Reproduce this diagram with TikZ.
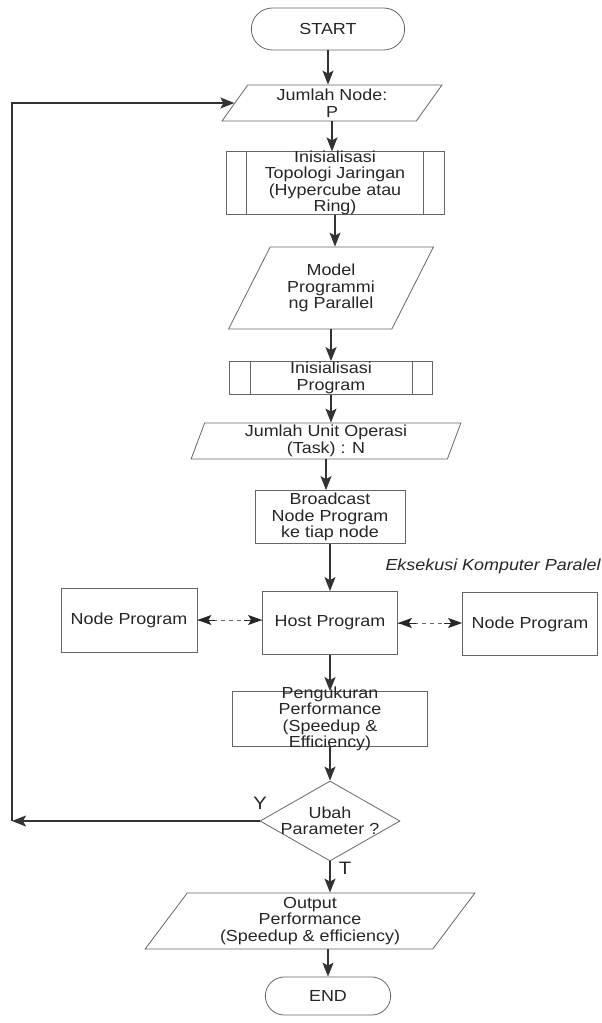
\documentclass[tikz,border=0pt]{standalone}
\usepackage{fontspec}
\setmainfont{Liberation Sans}[FakeStretch=1.12]
\usetikzlibrary{shapes.geometric,shapes.misc,arrows.meta}

\begin{document}
\begin{tikzpicture}[x=1pt, y=-1pt,
    >={Stealth[length=14pt,width=11pt,inset=3pt]},
    every node/.style={font=\fontsize{16}{16.5}\selectfont, text=black!85},
    term/.style={rounded rectangle, draw=black!60, line width=0.8pt},
    io/.style={trapezium, trapezium stretches=true, draw=black!60,
      line width=0.8pt, inner sep=0pt, align=center},
    proc/.style={rectangle, draw=black!60, line width=0.8pt, align=center},
    decision/.style={diamond, draw=black!60, line width=0.8pt,
      align=center, inner sep=-12pt},
    bar/.style={draw=black!60, line width=0.8pt},
    link/.style={->, draw=black!80, line width=1.3pt},
    comm/.style={draw=black!60, line width=1pt, dash pattern=on 4pt off 4pt},
    commtip/.style={-{Stealth[length=14pt,width=10pt,inset=3pt]}, draw=black!85,
      fill=black!85, line width=1pt}]
    \useasboundingbox (0,0) rectangle (602,1023);
    % main column
    \node[term, minimum width=160pt, minimum height=42pt] (start) at (328,29) {START};
    \node[io, trapezium left angle=59, trapezium right angle=121,
      minimum width=220pt, minimum height=36pt] (jn) at (332,103) {Jumlah Node:\\P};
    \node[proc, minimum width=218pt, minimum height=60pt, inner ysep=-1pt] (topo)
      at (335,183) {Inisialisasi\\Topologi Jaringan\\(Hypercube atau\\Ring)};
    \draw[bar] ([xshift=21pt]topo.north west) -- ([xshift=21pt]topo.south west);
    \draw[bar] ([xshift=-21pt]topo.north east) -- ([xshift=-21pt]topo.south east);
    \node[io, trapezium left angle=58, trapezium right angle=122,
      minimum width=205pt, minimum height=82pt] (model) at (331,288) {Model\\Programmi\\ng Parallel};
    \node[proc, minimum width=203pt, minimum height=33pt, inner ysep=0pt] (inis)
      at (331,378) {Inisialisasi\\Program};
    \draw[bar] ([xshift=21pt]inis.north west) -- ([xshift=21pt]inis.south west);
    \draw[bar] ([xshift=-21pt]inis.north east) -- ([xshift=-21pt]inis.south east);
    \node[io, trapezium left angle=74, trapezium right angle=106,
      minimum width=270pt, minimum height=36pt] (unit) at (326,441) {Jumlah Unit Operasi\\(Task) : N};
    \node[proc, minimum width=150pt, minimum height=53pt, inner ysep=0pt] (bcast)
      at (330,517) {Broadcast\\Node Program\\ke tiap node};
    % parallel execution
    \node[anchor=west, font=\fontsize{16}{16.5}\selectfont\itshape] (exec)
      at (382,566) {Eksekusi Komputer Paralel};
    \node[proc, minimum width=135pt, minimum height=63pt] (host) at (330,623) {Host Program};
    \node[proc, minimum width=136pt, minimum height=64pt] (nleft) at (129,620) {Node Program};
    \node[proc, minimum width=135pt, minimum height=63pt] (nright) at (530,624) {Node Program};
    \node[proc, minimum width=195pt, minimum height=55pt, inner ysep=-5pt] (ukur)
      at (330,719) {Pengukuran\\Performance\\(Speedup \&\\Efficiency)};
    \node[decision, minimum width=140pt, minimum height=80pt] (dec) at (330,821) {Ubah\\Parameter ?};
    \node[io, trapezium left angle=57, trapezium right angle=123,
      minimum width=330pt, minimum height=56pt] (out) at (310,921)
      {Output\\Performance\\(Speedup \& efficiency)};
    \node[term, minimum width=132pt, minimum height=38pt] (end) at (328,996) {END};
    \node[font=\fontsize{18}{18}\selectfont] (ya) at (260,803) {Y};
    \node[font=\fontsize{18}{18}\selectfont] (tidak) at (345,868) {T};
    \coordinate (back) at (12,821);
    % connectors
    \draw[link] (start.south) -- (start.south |- jn.north);
    \draw[link] (jn.south) -- (jn.south |- topo.north);
    \draw[link] (topo.south) -- (topo.south |- model.north);
    \draw[link] (model.south) -- (model.south |- inis.north);
    \draw[link] (inis.south) -- (inis.south |- unit.north);
    \draw[link] (unit.south) -- (unit.south |- bcast.north);
    \draw[link] (bcast.south) -- (bcast.south |- host.north);
    % dashed links, heads drawn solid
    \draw[comm] (nleft.east) -- (nleft.east -| host.west);
    \draw[comm] (host.east) -- (host.east -| nright.west);
    \draw[commtip] ([xshift=18pt]nleft.east) -- (nleft.east);
    \draw[commtip] ([xshift=-18pt]host.west |- nleft.east) -- (host.west |- nleft.east);
    \draw[commtip] ([xshift=18pt]host.east) -- (host.east);
    \draw[commtip] ([xshift=-18pt]nright.west |- host.east) -- (nright.west |- host.east);
    \draw[link] (host.south) -- (host.south |- ukur.north);
    \draw[link] (ukur.south) -- (ukur.south |- dec.north);
    \draw[link] (dec.south) -- (dec.south |- out.north);
    \draw[link] (end.north |- out.south) -- (end.north);
    \draw[link] (dec.west) -- (back);
    \draw[link] (back) |- (jn.west);
\end{tikzpicture}
\end{document}
